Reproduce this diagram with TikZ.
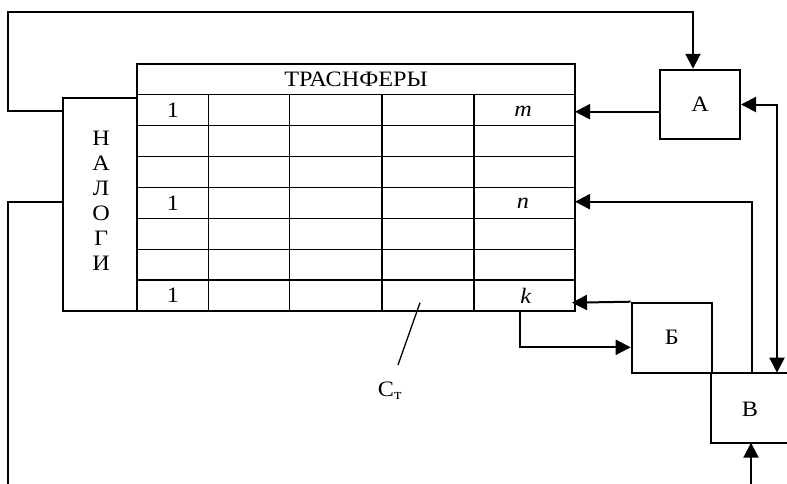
\documentclass[tikz,border=0pt]{standalone}
\usepackage{fontspec}
\setmainfont[FakeStretch=1.1]{Liberation Serif}
\usetikzlibrary{arrows.meta}
\tikzset{
  tablegrid/.style={line width=1.3pt},
  boxst/.style={draw, line width=2pt, inner sep=0pt, font=\fontsize{22}{26}\selectfont},
  link/.style={line width=2pt},
  arr/.style={link, -{Triangle[length=15pt,width=15pt]}},
  dbl/.style={link, {Triangle[length=15pt,width=15pt]}-{Triangle[length=15pt,width=15pt]}},
  leader/.style={line width=1.3pt},
  txt/.style={font=\fontsize{22}{26}\selectfont, inner sep=0pt}
}
\begin{document}
\begin{tikzpicture}[x=1pt,y=-1pt]
\useasboundingbox (0,0) rectangle (787,483);
% table grid
\draw[tablegrid] (137,64) rectangle (575,311);
\draw[tablegrid] (137,94.5) -- (575,94.5);
\foreach \i in {1,...,6} {\draw[tablegrid] (137,94.5+\i*30.93) -- (575,94.5+\i*30.93);}
\foreach \x in {208.5,289.5,382,474} {\draw[tablegrid] (\x,94.5) -- (\x,311);}
\node[txt] (hdr) at (356,79) {ТРАСНФЕРЫ};
\node[txt] (one1) at (172.8,110) {1};
\node[txt] (one4) at (172.8,202.8) {1};
\node[txt] (one7) at (172.8,295.6) {1};
\node[txt] (m) at (523,111) {\textit{m}};
\node[txt] (n) at (523,203.8) {\textit{n}};
\node[txt] (k) at (526,295.6) {\textit{k}};
% boxes
\node[boxst, minimum width=74pt, minimum height=213pt] (N) at (100,204.5) {};
\node[txt, align=center, font=\fontsize{22}{25}\selectfont] (Ntext) at (101,200.5) {Н\\А\\Л\\О\\Г\\И};
\node[boxst, minimum width=80pt, minimum height=69.5pt] (A) at (700,104.5) {А};
\node[boxst, minimum width=80pt, minimum height=70pt] (B) at (671.7,337.7) {Б};
\coordinate (Vtop) at (711,372.7);
\coordinate (Vbot) at (711,442.7);
\draw[link] (790,372.7) -- (Vtop) -- (Vbot) -- (790,442.7);
\node[txt] (V) at (750,409) {В};
% coordinates
\coordinate (t1) at (575,111.7);
\coordinate (t4) at (575,201.7);
\coordinate (t7) at (572,302.7);
\coordinate (tb) at (520,311);
\coordinate (f1) at (8,111);
\coordinate (f2) at (8,202);
\coordinate (topy) at (0,12);
\coordinate (bot) at (0,486);
\coordinate (ax) at (693,0);
\coordinate (xr) at (777,0);
\coordinate (xn) at (752,0);
\coordinate (xb) at (751,0);
\coordinate (by) at (0,347.3);
% connectors
\draw[arr] (N.west |- f1) -- (f1) -- (f1 |- topy) -| (ax |- A.north);
\draw[link] (N.west |- f2) -- (f2) -- (f2 |- bot);
\draw[arr] (A.west |- t1) -- (t1);
\draw[dbl] (A.east) -| (xr |- Vtop);
\draw[arr] (xn |- Vtop) |- (t4);
\draw[arr] (B.north west) -- (t7);
\draw[arr] (tb) |- (B.west |- by);
\draw[arr] (xb |- bot) -- (xb |- Vbot);
% leader and label
\coordinate (lt) at (420,302.7);
\coordinate (lb) at (398,365);
\draw[leader] (lt) -- (lb);
\node[txt] (ct) at (390,391) {С\textsubscript{т}};
\end{tikzpicture}
\end{document}
